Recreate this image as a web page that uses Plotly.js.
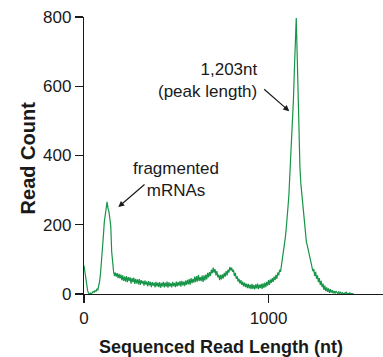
<!DOCTYPE html>
<html>
<head>
<meta charset="utf-8">
<script src="https://cdn.plot.ly/plotly-3.0.1.min.js"></script>
<style>html,body{margin:0;padding:0;background:#fff;}#chart{width:383px;height:357px;}</style>
</head>
<body>
<div id="chart"></div>
<script>
// Read length bins (nt), step 5
var readLengthStart = 0;
var readLengthStep = 5;
// Read counts per bin
var readCounts = [
  82, 60, 50, 22, 9, 2, 1, 3, 0, 4, 7, 5, 10, 8, 14, 12, 22, 38, 62, 92,
  122, 168, 208, 232, 252, 266, 248, 238, 218, 196, 122, 80, 66, 52, 62, 50, 60, 46, 58, 45,
  56, 40, 54, 38, 50, 36, 52, 34, 49, 38, 48, 30, 46, 34, 47, 29, 44, 31, 42, 28,
  43, 26, 40, 30, 38, 24, 39, 27, 36, 22, 37, 25, 35, 20, 34, 24, 33, 19, 35, 22,
  33, 20, 34, 18, 32, 22, 35, 19, 33, 21, 36, 18, 34, 22, 31, 19, 35, 23, 32, 20,
  36, 22, 34, 24, 37, 21, 38, 25, 36, 23, 39, 26, 41, 28, 43, 27, 46, 31, 44, 33,
  50, 34, 52, 36, 55, 38, 49, 37, 53, 35, 54, 39, 56, 42, 61, 48, 63, 52, 70, 60,
  76, 62, 72, 54, 66, 48, 56, 40, 55, 42, 57, 45, 61, 50, 66, 54, 70, 62, 78, 68,
  76, 64, 70, 52, 61, 44, 51, 36, 44, 30, 40, 26, 36, 22, 33, 20, 30, 17, 29, 16,
  27, 14, 29, 15, 26, 13, 28, 16, 30, 14, 27, 17, 29, 15, 31, 18, 33, 20, 35, 24,
  40, 26, 42, 32, 46, 35, 50, 40, 55, 44, 62, 54, 70, 64, 82, 95, 112, 135, 160, 185,
  210, 250, 285, 340, 365, 415, 485, 565, 650, 735, 797, 690, 560, 440, 365, 318, 290, 265, 225, 188,
  165, 150, 140, 128, 115, 100, 90, 78, 66, 72, 52, 64, 44, 54, 34, 46, 26, 38, 20, 30,
  12, 24, 8, 19, 6, 16, 3, 14, 4, 11, 2, 9, 1, 8, 5, 1, 7, 1, 5, 1,
  4, 0, 3, 1, 5, 0, 2, 0, 3, 0, 1, 0, 2
];
var readLengths = readCounts.map(function(_, i){ return readLengthStart + i*readLengthStep; });

var xTickVals = [0, 1000];
var xTickText = ['0', '1000'];
var yTickVals = [0, 200, 400, 600, 800];
var yTickText = ['0', '200', '400', '600', '800'];

var xTitle = 'Sequenced Read Length (nt)';
var yTitle = 'Read Count';
var fragLabel = 'fragmented<br>mRNAs';
var peakLabel = '1,203nt<br>(peak length)';

var FONT = '"Liberation Sans", Arial, Helvetica, sans-serif';
var INK = '#1a1a1a';

var trace = {
  x: readLengths, y: readCounts, type: 'scatter', mode: 'lines',
  line: {color: '#169447', width: 1.2},
  hoverinfo: 'skip', showlegend: false
};

var layout = {
  width: 383, height: 357,
  margin: {l: 84, r: 0, t: 17, b: 63, pad: 0},
  paper_bgcolor: '#fff', plot_bgcolor: '#fff',
  font: {family: FONT, size: 17, color: INK},
  xaxis: {
    range: [0, 1620], showgrid: false, zeroline: false,
    showline: true, linecolor: INK, linewidth: 1.2,
    ticks: 'outside', ticklen: 8, tickwidth: 1.2, tickcolor: INK,
    tickvals: xTickVals, ticktext: xTickText,
    tickfont: {family: FONT, size: 17, color: INK}
  },
  yaxis: {
    range: [0, 800], showgrid: false, zeroline: false,
    showline: true, linecolor: INK, linewidth: 1.2,
    ticks: 'outside', ticklen: 8, tickwidth: 1.2, tickcolor: INK,
    tickvals: yTickVals, ticktext: yTickText,
    tickfont: {family: FONT, size: 17, color: INK}
  },
  annotations: [
    {xref: 'paper', yref: 'paper', x: 0.458, y: -0.19, text: '<b>' + xTitle + '</b>',
     showarrow: false, xanchor: 'center', yanchor: 'middle', font: {family: FONT, size: 18, color: INK}},
    {xref: 'paper', yref: 'paper', x: -0.186, y: 0.491, text: '<b>' + yTitle + '</b>', textangle: -90,
     showarrow: false, xanchor: 'center', yanchor: 'middle', font: {family: FONT, size: 20, color: INK}},
    {xref: 'x', yref: 'y', x: 498, y: 331, text: fragLabel, showarrow: false,
     xanchor: 'center', yanchor: 'middle', align: 'center', font: {family: FONT, size: 17, color: INK}},
    {xref: 'x', yref: 'y', x: 948, y: 617, text: peakLabel, showarrow: false,
     xanchor: 'right', yanchor: 'middle', align: 'right', font: {family: FONT, size: 17, color: INK}},
    {xref: 'x', yref: 'y', x: 186, y: 251, axref: 'x', ayref: 'y', ax: 336, ay: 320,
     text: '', showarrow: true, arrowhead: 2, arrowsize: 1, arrowwidth: 1.2, arrowcolor: INK, standoff: 0, startstandoff: 0},
    {xref: 'x', yref: 'y', x: 1112, y: 528, axref: 'x', ayref: 'y', ax: 968, ay: 595,
     text: '', showarrow: true, arrowhead: 2, arrowsize: 1, arrowwidth: 1.2, arrowcolor: INK, standoff: 0, startstandoff: 0}
  ]
};

Plotly.newPlot('chart', [trace], layout, {staticPlot: true, displayModeBar: false});
</script>
</body>
</html>
